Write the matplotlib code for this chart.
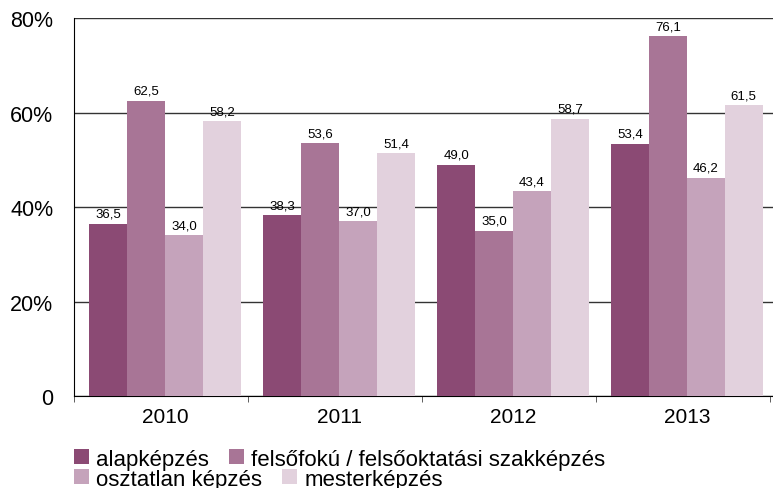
import numpy as np
import matplotlib
matplotlib.use('Agg')
import matplotlib.pyplot as plt
from matplotlib.patches import Patch

years = ['2010', '2011', '2012', '2013']
series_names = ['alapképzés', 'felsőfokú / felsőoktatási szakképzés',
                'osztatlan képzés', 'mesterképzés']
alap = [36.5, 38.3, 49.0, 53.4]
felso = [62.5, 53.6, 35.0, 76.1]
osztatlan = [34.0, 37.0, 43.4, 46.2]
mester = [58.2, 51.4, 58.7, 61.5]
colors = ['#8b4a74', '#a87596', '#c5a3bb', '#e2d1dd']

plt.rcParams['font.family'] = ['Liberation Sans', 'DejaVu Sans']

fig = plt.figure(figsize=(7.73, 4.89), dpi=100)
ax = fig.add_axes([0.096, 0.188, 0.904, 0.773])

x = np.arange(len(years))
width = 0.218
all_series = [alap, felso, osztatlan, mester]
for i, (vals, col) in enumerate(zip(all_series, colors)):
    pos = x + (i - 1.5) * width + 0.023
    bars = ax.bar(pos, vals, width, color=col, linewidth=0, zorder=3)
    for b, v in zip(bars, vals):
        ax.text(b.get_x() + b.get_width() / 2, v + 0.8, f'{v:.1f}'.replace('.', ','),
                ha='center', va='bottom', fontsize=9.5, zorder=4)

ax.set_xlim(-0.5, 3.518)
ax.set_ylim(0, 80)
ax.set_yticks([0, 20, 40, 60, 80])
ax.set_yticklabels(['0', '20%', '40%', '60%', '80%'], fontsize=15.5)
ax.yaxis.grid(True, color='#333333', linewidth=1.0, zorder=0)
ax.tick_params(axis='y', length=0, pad=15)

ax.set_xticks(x + 0.023)
ax.set_xticklabels(years, fontsize=15)
ax.set_xticks(np.arange(len(years) + 1) - 0.5, minor=True)
ax.tick_params(axis='x', which='major', length=0, pad=8)
ax.tick_params(axis='x', which='minor', length=4, color='#444444')

for s in ['top', 'right']:
    ax.spines[s].set_visible(False)
ax.spines['left'].set_color('black')
ax.spines['bottom'].set_color('black')

# legend: two rows laid out like flowing text
row1 = [Patch(facecolor=colors[0], label=series_names[0]),
        Patch(facecolor=colors[1], label=series_names[1])]
row2 = [Patch(facecolor=colors[2], label=series_names[2]),
        Patch(facecolor=colors[3], label=series_names[3])]
leg_kw = dict(ncol=2, frameon=False, fontsize=16, handlelength=0.68, handleheight=0.68,
              handletextpad=0.32, columnspacing=0.9, borderpad=0, borderaxespad=0)
fig.legend(handles=row1, loc='center left', bbox_to_anchor=(0.0957, 0.0593), **leg_kw)
fig.legend(handles=row2, loc='center left', bbox_to_anchor=(0.0957, 0.0184), **leg_kw)

plt.savefig('out.png', dpi=100)
plt.close()
